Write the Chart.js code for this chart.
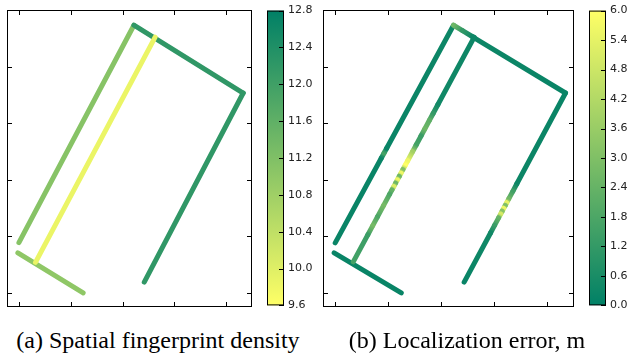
<!DOCTYPE html>
<html>
<head>
<meta charset="utf-8">
<script src="https://cdn.jsdelivr.net/npm/chart.js@4.4.0/dist/chart.umd.min.js"></script>
<style>
  body { margin: 0; background: #fff; width: 629px; height: 356px; position: relative; overflow: hidden; }
  canvas { position: absolute; }
  .cap { position: absolute; width: 300px; text-align: center; font-family: 'Liberation Serif', serif; font-size: 24px; line-height: 24px; color: #000; white-space: nowrap; }
</style>
</head>
<body>
<canvas id="densityPlot" width="245" height="297" style="left:7px;top:10px"></canvas>
<canvas id="densityBar" width="61" height="316" style="left:267px;top:0px"></canvas>
<canvas id="errorPlot" width="251" height="297" style="left:323px;top:10px"></canvas>
<canvas id="errorBar" width="61" height="316" style="left:589px;top:0px"></canvas>
<div class="cap" style="left:8px;top:328px">(a) Spatial fingerprint density</div>
<div class="cap" style="left:317px;top:328px">(b) Localization error, m</div>
<script>
// axis ranges and tick positions (ticks have no labels in the figure)
const xMin = -2.3, xMax = 45.0;
const yMin = 7.5, yMax = 60.1;
const xTicks = [0, 10, 20, 30, 40];
const yTicks = [10, 20, 30, 40, 50];
const densityTicks = [9.6, 10.0, 10.4, 10.8, 11.2, 11.6, 12.0, 12.4, 12.8];
const errorTicks = [0.0, 0.6, 1.2, 1.8, 2.4, 3.0, 3.6, 4.2, 4.8, 5.4, 6.0];

// corridors, (x, y) end points
const midCorridor = [[26.3, 55.3], [3.2, 15.4]];
const northCorridor = [[22.2, 57.4], [43.3, 45.4]];
const westCorridor = [[0.0, 18.9], [22.2, 57.4]];
const eastCorridor = [[43.3, 45.4], [24.2, 11.9]];
const southCorridor = [[-0.2, 17.1], [12.4, 10.0]];
// fingerprint density per corridor: mid, north, west, east, south
const corridorDensity = [9.85, 12.2, 11.1, 12.2, 11.0];

// localization error along the corridors, (x, y, error m)
const midErr = [
  [26.20, 55.30, 0.3], [19.36, 43.36, 0.4], [18.45, 41.77, 1.2], [17.76, 40.57, 2.2],
  [16.85, 38.98, 2.6], [16.17, 37.79, 1.4], [15.26, 36.20, 1.6], [14.57, 35.00, 3.8],
  [13.66, 33.41, 5.6], [13.20, 32.61, 6.0], [12.75, 31.82, 3.0], [12.41, 31.22, 5.6],
  [12.06, 30.62, 2.6], [11.72, 30.03, 5.6], [11.38, 29.43, 2.6], [11.04, 28.83, 5.2],
  [10.70, 28.24, 2.4], [10.24, 27.44, 1.8], [9.10, 25.45, 2.8], [7.96, 23.46, 1.8],
  [7.05, 21.87, 2.8], [6.14, 20.28, 1.4], [3.40, 15.50, 1.6]
];
const northErr = [[22.3, 57.4, 2.6], [23.99, 56.44, 1.2], [25.89, 55.36, 0.3], [43.4, 45.4, 0.2]];
const westErr = [[0.0, 18.85, 0.2], [8.70, 33.88, 0.2], [9.21, 34.77, 1.6], [9.70, 35.62, 0.2], [22.3, 57.4, 0.3]];
const eastErr = [
  [43.4, 45.4, 0.2], [34.23, 29.32, 0.3], [33.47, 27.98, 1.5], [32.70, 26.64, 2.6],
  [32.32, 25.97, 5.4], [32.04, 25.47, 3.0], [31.75, 24.97, 5.6], [31.46, 24.46, 3.2],
  [31.18, 23.96, 5.0], [30.79, 23.29, 2.4], [30.03, 21.95, 1.4], [29.27, 20.61, 0.4],
  [24.3, 11.9, 0.2]
];
const southErr = [[-0.2, 17.1, 0.2], [12.45, 10.0, 0.2]];

// matplotlib "summer": green (t=0) to yellow (t=1)
function summer(t) {
    t = Math.min(1, Math.max(0, t));
    return 'rgb(' + Math.round(255 * t) + ',' + Math.round(127.5 + 127.5 * t) + ',102)';
}
const densityColor = v => summer((12.8 - v) / 3.2);
const errorColor = v => summer(v / 6.0);

// box with inward ticks on all four sides
const frameTicks = {
    id: 'frameTicks',
    afterDraw(chart) {
        const ctx = chart.ctx, a = chart.chartArea;
        const sx = chart.scales.x, sy = chart.scales.y;
        ctx.save();
        ctx.strokeStyle = '#000';
        ctx.lineWidth = 1;
        ctx.strokeRect(a.left + 0.5, a.top + 0.5, a.right - a.left - 1, a.bottom - a.top - 1);
        ctx.beginPath();
        xTicks.forEach(v => {
            const px = Math.round(sx.getPixelForValue(v)) + 0.5;
            ctx.moveTo(px, a.bottom); ctx.lineTo(px, a.bottom - 5);
            ctx.moveTo(px, a.top); ctx.lineTo(px, a.top + 5);
        });
        yTicks.forEach(v => {
            const py = Math.round(sy.getPixelForValue(v)) + 0.5;
            ctx.moveTo(a.left, py); ctx.lineTo(a.left + 5, py);
            ctx.moveTo(a.right, py); ctx.lineTo(a.right - 5, py);
        });
        ctx.stroke();
        ctx.restore();
    }
};

const barFrame = {
    id: 'barFrame',
    afterDraw(chart) {
        const ctx = chart.ctx, a = chart.chartArea, sy = chart.scales.y;
        ctx.save();
        ctx.strokeStyle = '#000';
        ctx.lineWidth = 1;
        ctx.strokeRect(a.left + 0.5, a.top + 0.5, a.right - a.left - 1, a.bottom - a.top - 1);
        ctx.beginPath();
        sy.ticks.forEach(t => {
            const py = Math.round(sy.getPixelForValue(t.value)) + 0.5;
            ctx.moveTo(a.right, py); ctx.lineTo(a.right - 5, py);
        });
        ctx.stroke();
        ctx.restore();
    }
};

function lineSet(points) {
    return {
        data: points.map(p => ({ x: p[0], y: p[1] })),
        showLine: true,
        borderWidth: 5,
        borderCapStyle: 'round',
        borderJoinStyle: 'round',
        pointRadius: 0,
        fill: false
    };
}

function densitySet(points, value) {
    const ds = lineSet(points);
    ds.borderColor = densityColor(value);
    return ds;
}

function errorSet(points) {
    const ds = lineSet(points);
    ds.borderColor = errorColor(points[0][2]);
    ds.segment = {
        borderColor: c => {
            const g = c.chart.ctx.createLinearGradient(c.p0.x, c.p0.y, c.p1.x, c.p1.y);
            g.addColorStop(0, errorColor(points[c.p0DataIndex][2]));
            g.addColorStop(1, errorColor(points[c.p1DataIndex][2]));
            return g;
        }
    };
    return ds;
}

function makePlot(id, datasets) {
    return new Chart(document.getElementById(id), {
        type: 'scatter',
        data: { datasets: datasets },
        options: {
            responsive: false,
            animation: false,
            events: [],
            layout: { padding: 0 },
            plugins: { legend: { display: false }, tooltip: { enabled: false } },
            scales: {
                x: { type: 'linear', display: false, min: xMin, max: xMax },
                y: { type: 'linear', display: false, min: yMin, max: yMax }
            }
        },
        plugins: [frameTicks]
    });
}

function makeColorbar(id, lo, hi, ticks, colorAt) {
    return new Chart(document.getElementById(id), {
        type: 'bar',
        data: {
            labels: [''],
            datasets: [{
                data: [[lo, hi]],
                barPercentage: 1,
                categoryPercentage: 1,
                borderWidth: 0,
                backgroundColor: c => {
                    const a = c.chart.chartArea;
                    if (!a) return colorAt(lo);
                    const g = c.chart.ctx.createLinearGradient(0, a.bottom, 0, a.top);
                    g.addColorStop(0, colorAt(lo));
                    g.addColorStop(1, colorAt(hi));
                    return g;
                }
            }]
        },
        options: {
            responsive: false,
            animation: false,
            events: [],
            layout: { padding: { top: 10, bottom: 9, left: 0, right: 0 } },
            plugins: { legend: { display: false }, tooltip: { enabled: false } },
            scales: {
                x: { display: false },
                y: {
                    position: 'right',
                    min: lo,
                    max: hi,
                    afterBuildTicks: s => { s.ticks = ticks.map(v => ({ value: v })); },
                    afterFit: s => { s.width = 44; },
                    grid: { drawOnChartArea: false, drawTicks: false },
                    border: { display: false },
                    ticks: {
                        padding: 4,
                        color: '#222',
                        font: { family: 'DejaVu Sans', size: 11 },
                        callback: v => Number(v).toFixed(1)
                    }
                }
            }
        },
        plugins: [barFrame]
    });
}

makePlot('densityPlot', [
    densitySet(midCorridor, corridorDensity[0]),
    densitySet(northCorridor, corridorDensity[1]),
    densitySet(westCorridor, corridorDensity[2]),
    densitySet(eastCorridor, corridorDensity[3]),
    densitySet(southCorridor, corridorDensity[4])
]);
makeColorbar('densityBar', 9.6, 12.8, densityTicks, densityColor);

makePlot('errorPlot', [
    errorSet(midErr),
    errorSet(northErr),
    errorSet(westErr),
    errorSet(eastErr),
    errorSet(southErr)
]);
makeColorbar('errorBar', 0.0, 6.0, errorTicks, errorColor);
</script>
</body>
</html>
